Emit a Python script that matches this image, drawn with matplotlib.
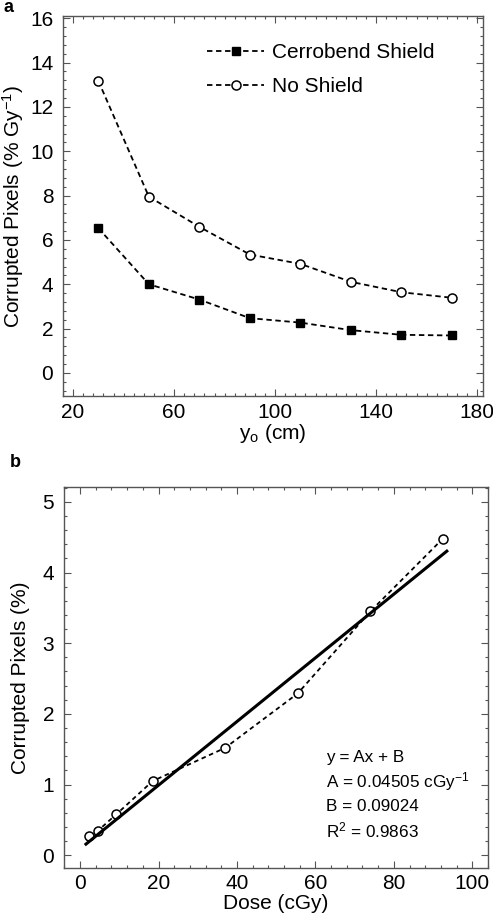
import matplotlib
matplotlib.use("Agg")
import matplotlib.pyplot as plt
import numpy as np
from matplotlib.ticker import MultipleLocator

# ============================
# DADOS
# ============================

# painel a
y0_cm = [30, 50, 70, 90, 110, 130, 150, 170]
cerrobend = [6.53, 4.00, 3.31, 2.47, 2.27, 1.93, 1.72, 1.69]
no_shield = [13.17, 7.95, 6.59, 5.34, 4.92, 4.11, 3.64, 3.39]

# painel b
dose_cgy = [2.3, 4.6, 9.25, 18.5, 37.0, 55.5, 74.0, 92.5]
corrupted = [0.27, 0.35, 0.58, 1.05, 1.52, 2.29, 3.45, 4.48]
fit_A = 0.04505
fit_B = 0.09024
fit_R2 = 0.9863
fit_range = [1.5, 93.5]

# ============================
# ESTILO
# ============================

plt.rcParams["font.family"] = ["Liberation Sans", "DejaVu Sans"]
plt.rcParams["mathtext.fontset"] = "custom"
plt.rcParams["mathtext.rm"] = "Liberation Sans"
plt.rcParams["mathtext.it"] = "Liberation Sans:italic"
plt.rcParams["mathtext.bf"] = "Liberation Sans:bold"

W, H = 493, 921
fig = plt.figure(figsize=(W / 100, H / 100), dpi=100)

spine_col = "#555555"
FS = 15


def estilo_eixo(ax, xmaj, xmin, ymaj, ymin, xoff=0, xpad=5):
    ax.xaxis.set_major_locator(MultipleLocator(xmaj, offset=xoff))
    ax.xaxis.set_minor_locator(MultipleLocator(xmin))
    ax.yaxis.set_major_locator(MultipleLocator(ymaj))
    ax.yaxis.set_minor_locator(MultipleLocator(ymin))
    ax.tick_params(which="both", direction="in", top=True, right=True,
                   color=spine_col, width=0.8)
    ax.tick_params(which="major", length=5, labelsize=FS)
    ax.tick_params(which="minor", length=2.5)
    ax.tick_params(axis="x", which="major", pad=xpad)
    ax.tick_params(axis="y", which="major", pad=7)
    for s in ax.spines.values():
        s.set_color(spine_col)
        s.set_linewidth(1.0)


# ============================
# PAINEL A
# ============================

ax1 = fig.add_axes([63 / W, 1 - 396 / H, 420 / W, 380 / H])
ax1.plot(y0_cm, cerrobend, ls=(0, (3, 2)), color="black", lw=1.3,
         marker="s", ms=6, mfc="black", mec="black", label="Cerrobend Shield")
ax1.plot(y0_cm, no_shield, ls=(0, (3, 2)), color="black", lw=1.3,
         marker="o", ms=6.5, mfc="white", mec="black", mew=1.1, label="No Shield")
ax1.set_xlim(16, 182.3)
ax1.set_ylim(-1.04, 16.1)
estilo_eixo(ax1, 40, 4, 2, 0.4, xoff=20)
ax1.set_xlabel(r"y$_{\rm o}$ (cm)", fontsize=FS, labelpad=0)
ax1.set_ylabel(r"Corrupted Pixels (% Gy$^{-1}$)", fontsize=FS, labelpad=3)
ax1.legend(loc="upper right", frameon=False, fontsize=FS, handlelength=2.75,
           handletextpad=0.38, labelspacing=0.72,
           bbox_to_anchor=(0.93, 0.978))

# ============================
# PAINEL B
# ============================

ax2 = fig.add_axes([64 / W, 1 - 868 / H, 424 / W, 381 / H])
ax2.plot(dose_cgy, corrupted, ls=(0, (2.5, 2)), color="black", lw=1.3,
         marker="o", ms=6.5, mfc="white", mec="black", mew=1.1, zorder=2)
xfit = np.array(fit_range)
ax2.plot(xfit, fit_A * xfit + fit_B, color="black", lw=2.2, zorder=3)
ax2.set_xlim(-4.1, 104)
ax2.set_ylim(-0.18, 5.21)
estilo_eixo(ax2, 20, 4, 1, 0.2, xpad=4)
ax2.set_xlabel("Dose (cGy)", fontsize=FS, labelpad=1)
ax2.set_ylabel("Corrupted Pixels (%)", fontsize=FS, labelpad=9)

linhas = [
    "y = Ax + B",
    f"A = {fit_A:.5f} cGy$^{{-1}}$",
    f"B = {fit_B:.5f}",
    f"R$^2$ = {fit_R2:.4f}",
]
for i, txt in enumerate(linhas):
    ax2.text(0.618, 0.291 - i * 0.0645, txt, transform=ax2.transAxes,
             fontsize=12.3, va="center", ha="left")

# rótulos dos painéis
fig.text(3 / W, 1 - 8 / H, "a", fontsize=13, fontweight="bold", va="center")
fig.text(10 / W, 1 - 462 / H, "b", fontsize=13, fontweight="bold", va="center")

fig.savefig("out.png", dpi=100)
